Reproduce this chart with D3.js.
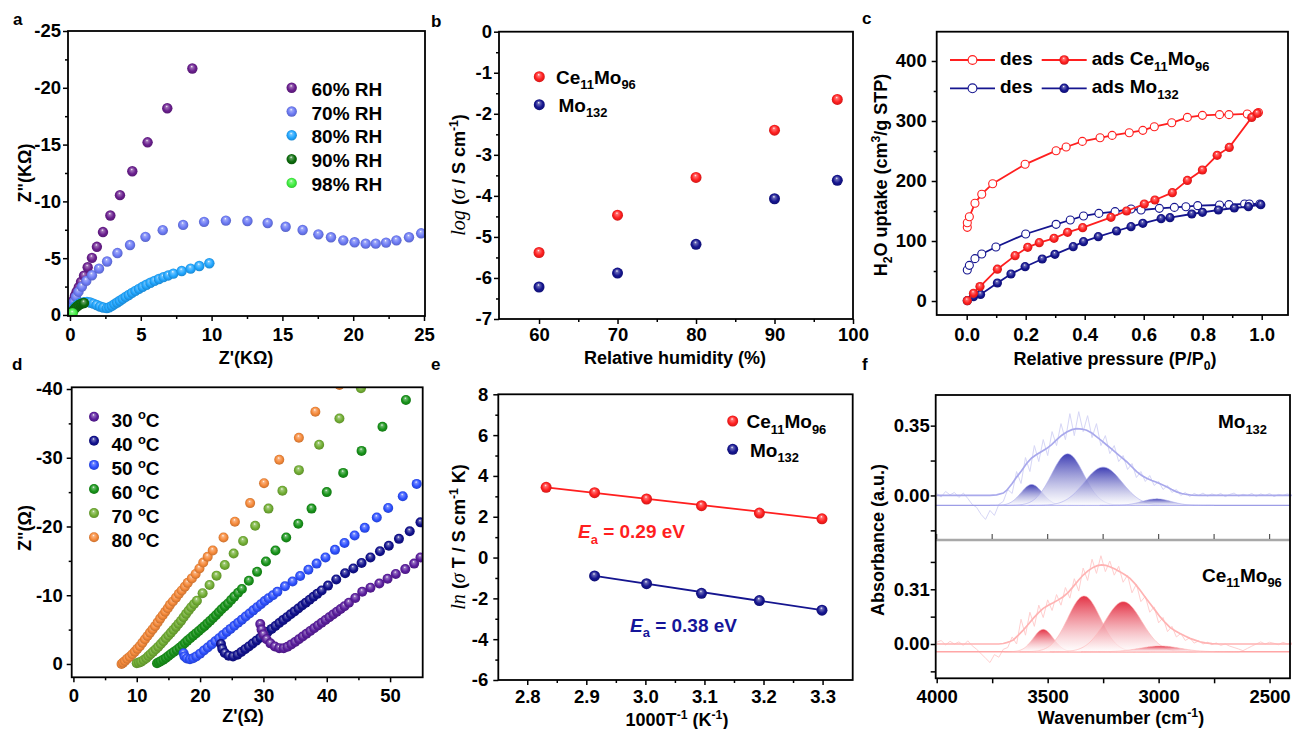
<!DOCTYPE html>
<html>
<head>
<meta charset="utf-8">
<script src="https://cdn.jsdelivr.net/npm/d3@7"></script>
<style>
  body { margin: 0; background: #fff; }
  svg text { font-family: Arial, "Liberation Sans", sans-serif; font-weight: bold; fill: #000; }
</style>
</head>
<body>
<svg id="fig" width="1292" height="729"></svg>
<script>
// ---------------- data ----------------
// (a) Nyquist plots of Ce11Mo96 at different humidity, [Z' (kOhm), Z'' (kOhm)]
const rhLabels = ["60% RH", "70% RH", "80% RH", "90% RH", "98% RH"];
const nyqRH60 = [[0.05,-0.15],[0.1,-0.4],[0.15,-0.7],[0.2,-1.0],[0.27,-1.35],[0.35,-1.7],[0.47,-2.05],[0.62,-2.45],[0.78,-2.9],[0.99,-3.45],[1.25,-4.2],[1.55,-5.03],[1.9,-6.0],[2.33,-7.3],[2.85,-8.76],[3.53,-10.55],[4.4,-12.65],[5.48,-15.2],[6.87,-18.2],[8.64,-21.7]];
const nyqRH70 = [[0.05,-0.1],[0.1,-0.3],[0.15,-0.55],[0.2,-0.85],[0.28,-1.17],[0.42,-1.61],[0.6,-2.05],[0.84,-2.5],[1.15,-3.0],[1.55,-3.5],[2.05,-4.08],[2.62,-4.71],[3.35,-5.45],[4.24,-6.16],[5.33,-6.88],[6.55,-7.47],[7.99,-7.93],[9.47,-8.2],[11.01,-8.31],[12.53,-8.27],[13.96,-8.1],[15.23,-7.77],[16.43,-7.48],[17.54,-7.1],[18.43,-6.84],[19.3,-6.57],[20.1,-6.4],[20.88,-6.28],[21.59,-6.28],[22.32,-6.37],[23.05,-6.57],[23.94,-6.84],[24.8,-7.19]];
const nyqRH80 = [[0.08,-0.15],[0.15,-0.35],[0.25,-0.55],[0.38,-0.75],[0.55,-0.92],[0.75,-1.05],[0.97,-1.12],[1.2,-1.15],[1.42,-1.1],[1.65,-1.0],[1.88,-0.88],[2.12,-0.75],[2.35,-0.66],[2.6,-0.6],[2.78,-0.68],[2.96,-0.8],[3.14,-0.95],[3.33,-1.1],[3.52,-1.25],[3.72,-1.42],[3.93,-1.59],[4.15,-1.76],[4.38,-1.95],[4.62,-2.12],[4.87,-2.3],[5.13,-2.48],[5.4,-2.66],[5.68,-2.84],[5.97,-3.0],[6.28,-3.17],[6.6,-3.33],[6.94,-3.48],[7.3,-3.64],[7.89,-3.87],[8.52,-4.08],[9.13,-4.31],[9.84,-4.55]];
const nyqRH90 = [[0.1,-0.12],[0.18,-0.28],[0.27,-0.45],[0.37,-0.6],[0.48,-0.73],[0.6,-0.85],[0.73,-0.95],[0.86,-1.02],[0.99,-1.05]];
const nyqRH98 = [[0.05,-0.08],[0.12,-0.12],[0.19,-0.15]];
const aTicksX = [0, 5, 10, 15, 20, 25];
const aTicksY = [0, -5, -10, -15, -20, -25];

// (b) proton conductivity vs relative humidity
const humidity = [60, 70, 80, 90, 98];
const logSigmaCe = [-5.38, -4.47, -3.55, -2.40, -1.65];
const logSigmaMo = [-6.22, -5.88, -5.18, -4.07, -3.62];
const bTicksX = [60, 70, 80, 90, 100];
const bTicksY = [0, -1, -2, -3, -4, -5, -6, -7];

// (c) water vapour sorption isotherms, [P/P0, uptake]
const desCe = [[0.002,122.8],[0.002,130.5],[0.009,140.5],[0.028,162.8],[0.051,178],[0.088,195.5],[0.198,227.8],[0.303,250.5],[0.337,256.7],[0.392,266],[0.452,272],[0.493,276],[0.551,280.5],[0.597,284.4],[0.636,290.5],[0.695,297],[0.748,306],[0.799,309.4],[0.857,310.6],[0.889,310.6],[0.951,311.7],[0.989,314]];
const adsCe = [[0.002,0.6],[0.023,12.8],[0.045,24],[0.104,53],[0.164,75.6],[0.207,89.4],[0.246,97.2],[0.296,104.4],[0.342,114.4],[0.393,122.2],[0.489,139.4],[0.542,150],[0.602,161.7],[0.638,168.3],[0.697,180.6],[0.748,201],[0.799,218.3],[0.849,242.8],[0.890,256],[0.966,306],[0.985,312.7]];
const desMo = [[0.002,51.7],[0.009,59.4],[0.028,70.6],[0.051,78.3],[0.099,90],[0.2,111.7],[0.303,127.8],[0.351,135],[0.396,141.7],[0.448,146],[0.503,148.9],[0.557,153.3],[0.591,151.7],[0.653,154.4],[0.704,156],[0.743,157.2],[0.783,158.9],[0.857,160],[0.889,160.6],[0.942,161.7],[0.958,161.7],[0.994,161.7]];
const adsMo = [[0.002,0.6],[0.023,7.2],[0.047,11],[0.104,30],[0.150,45],[0.198,57.2],[0.256,70],[0.299,77.8],[0.361,90.6],[0.396,98.9],[0.446,107.2],[0.508,116.7],[0.557,123.9],[0.597,129.4],[0.659,137.2],[0.689,138.9],[0.763,145],[0.799,147.8],[0.853,151.7],[0.907,155],[0.955,157.2],[0.997,160.6]];
const cTicksX = [0, 0.2, 0.4, 0.6, 0.8, 1.0];
const cTicksY = [0, 100, 200, 300, 400];

// (d) Nyquist plots of Ce11Mo96 at different temperature, [Z' (Ohm), Z'' (Ohm)]
const tempLabels = ["30", "40", "50", "60", "70", "80"];
const nyqT30 = [[29.5,-5.8],[29.7,-5.0],[30.0,-4.3],[30.5,-3.6],[31.1,-3.0],[31.8,-2.55],[32.5,-2.3],[33.2,-2.3],[33.8,-2.5],[34.4,-2.85],[35.0,-3.2],[35.6,-3.6],[36.2,-4.0],[36.8,-4.4],[37.4,-4.8],[38.0,-5.2],[38.6,-5.6],[39.2,-6.0],[39.8,-6.4],[40.4,-6.8],[41.0,-7.2],[41.6,-7.6],[42.2,-8.0],[42.8,-8.4],[43.5,-8.9],[44.5,-9.6],[45.6,-10.5],[46.9,-11.1],[48.3,-11.7],[49.6,-12.4],[50.9,-13.1],[52.4,-13.8],[53.8,-14.6],[54.8,-15.5]];
const nyqT40 = [[23.3,-2.9],[23.5,-2.2],[23.9,-1.6],[24.5,-1.2],[25.2,-1.1],[25.9,-1.35],[26.5,-1.75],[27.1,-2.15],[27.7,-2.55],[28.3,-2.97],[28.9,-3.4],[29.5,-3.82],[30.1,-4.25],[30.7,-4.68],[31.3,-5.1],[31.9,-5.53],[32.5,-5.95],[33.1,-6.38],[33.7,-6.8],[34.3,-7.22],[34.9,-7.65],[35.5,-8.07],[36.1,-8.5],[36.7,-8.92],[37.3,-9.35],[37.9,-9.77],[38.5,-10.2],[39.2,-10.7],[40.2,-11.4],[41.5,-12.3],[42.9,-13.2],[44.2,-13.9],[45.5,-14.7],[46.9,-15.5],[48.4,-16.4],[49.8,-17.2],[51.4,-18.2],[53.1,-19.3],[54.8,-20.6]];
const nyqT50 = [[17.4,-1.55],[17.55,-1.1],[17.9,-0.8],[18.4,-0.7],[18.9,-0.82],[19.4,-1.1],[20.0,-1.5],[20.6,-1.95],[21.2,-2.4],[21.8,-2.85],[22.4,-3.3],[23.0,-3.75],[23.6,-4.2],[24.2,-4.65],[24.8,-5.1],[25.4,-5.55],[26.0,-6.0],[26.6,-6.45],[27.2,-6.9],[27.8,-7.35],[28.4,-7.8],[29.0,-8.25],[29.6,-8.7],[30.2,-9.15],[30.8,-9.55],[31.5,-10.0],[32.2,-10.5],[33.4,-11.3],[34.6,-12.0],[35.8,-12.8],[37.1,-13.7],[38.4,-14.6],[39.8,-15.5],[41.3,-16.6],[42.8,-17.6],[44.4,-18.7],[46.0,-19.8],[47.9,-21.3],[49.7,-22.7],[52.0,-24.4],[54.2,-26.2]];
const nyqT60 = [[13.2,-0.1],[13.5,-0.25],[13.8,-0.39],[14.2,-0.63],[14.6,-0.87],[15.0,-1.15],[15.4,-1.46],[15.85,-1.75],[16.3,-2.04],[16.75,-2.37],[17.2,-2.7],[17.6,-3.05],[18.0,-3.4],[18.45,-3.75],[18.9,-4.1],[19.35,-4.45],[19.8,-4.8],[20.25,-5.15],[20.7,-5.5],[21.15,-5.9],[21.6,-6.3],[22.05,-6.7],[22.5,-7.1],[22.95,-7.53],[23.4,-7.96],[23.9,-8.38],[24.4,-8.8],[24.9,-9.3],[25.4,-9.8],[26.0,-10.35],[26.6,-10.9],[27.7,-12.1],[29.0,-13.4],[30.4,-14.9],[31.9,-16.5],[33.6,-18.4],[35.5,-20.4],[37.6,-22.6],[40.0,-25.0],[42.6,-27.8],[45.5,-31.0],[48.8,-34.5],[52.5,-38.4]];
const nyqT70 = [[10.0,-0.1],[10.35,-0.2],[10.7,-0.34],[11.1,-0.58],[11.5,-0.83],[11.85,-1.15],[12.2,-1.46],[12.6,-1.8],[13.0,-2.14],[13.4,-2.5],[13.8,-2.9],[14.2,-3.3],[14.6,-3.74],[15.0,-4.15],[15.4,-4.56],[15.8,-4.98],[16.2,-5.4],[16.6,-5.85],[17.0,-6.3],[17.4,-6.8],[17.8,-7.3],[18.2,-7.77],[18.6,-8.25],[19.05,-8.72],[19.5,-9.2],[20.4,-10.3],[21.5,-11.5],[22.6,-12.85],[23.9,-14.4],[25.3,-16.06],[26.8,-17.9],[28.7,-20.1],[30.8,-22.6],[33.0,-25.2],[35.6,-28.2],[38.8,-31.9],[42.0,-35.7],[45.4,-40.1]];
const nyqT80 = [[7.6,0],[7.85,-0.2],[8.15,-0.44],[8.5,-0.75],[8.9,-1.06],[9.3,-1.42],[9.7,-1.8],[10.1,-2.2],[10.5,-2.6],[10.9,-3.1],[11.3,-3.6],[11.7,-4.08],[12.1,-4.56],[12.5,-5.03],[12.9,-5.5],[13.3,-6.05],[13.7,-6.6],[14.1,-7.1],[14.5,-7.6],[14.9,-8.1],[15.25,-8.6],[15.7,-9.1],[16.2,-9.65],[16.65,-10.2],[17.1,-10.7],[17.6,-11.25],[18.05,-11.8],[18.7,-12.45],[19.3,-13.1],[19.9,-13.9],[20.5,-14.75],[21.2,-15.6],[22.0,-16.5],[23.7,-18.4],[25.5,-20.7],[27.9,-23.4],[30.1,-26.3],[32.5,-29.7],[35.6,-32.9],[38.2,-36.7],[42.0,-40.6]];
const dTicksX = [0, 10, 20, 30, 40, 50];
const dTicksY = [0, -10, -20, -30, -40];

// (e) Arrhenius plots
const invT = [2.832, 2.914, 3.002, 3.095, 3.193, 3.299];
const lnSigmaTCe = [3.44, 3.18, 2.87, 2.54, 2.18, 1.90];
const lnSigmaTMo = [null, -0.90, -1.28, -1.75, -2.11, -2.58];
const fitCe = [[2.832, 3.44], [3.299, 1.90]];
const fitMo = [[2.914, -0.90], [3.299, -2.58]];
const eaCe = "0.29", eaMo = "0.38";
const eTicksX = [2.8, 2.9, 3.0, 3.1, 3.2, 3.3];
const eTicksY = [8, 6, 4, 2, 0, -2, -4, -6];

// (f) FT-IR O-H stretching region; raw spectra sampled every 20 cm-1 from 4000 cm-1
const rawStart = 4000, rawStep = 20;
const rawMo = [0.01,-0.008,0.02,0.003,0.015,-0.01,0.012,-0.015,-0.045,-0.06,-0.095,-0.12,-0.075,-0.1,-0.045,-0.03,0.03,0.01,0.12,0.06,0.19,0.12,0.25,0.17,0.28,0.2,0.32,0.25,0.36,0.28,0.41,0.3,0.42,0.32,0.4,0.29,0.36,0.25,0.3,0.21,0.25,0.17,0.2,0.13,0.16,0.09,0.12,0.07,0.1,0.05,0.07,0.03,0.05,0.015,0.03,0.0,0.015,-0.005,0.01,0.0,0.012,-0.004,0.008,0.0,0.01,-0.006,0.005,0.012,-0.004,0.006,0.0,0.01,-0.005,0.008,0.0,0.01,-0.006,0.005,0.0,0.008,0.0];
const rawCe = [0.01,0.02,-0.005,0.015,0.0,0.012,-0.008,0.018,-0.01,-0.03,-0.055,-0.08,-0.105,-0.06,-0.075,-0.03,-0.02,0.04,0.0,0.14,0.05,0.18,0.1,0.22,0.15,0.25,0.19,0.28,0.22,0.32,0.26,0.37,0.3,0.43,0.36,0.48,0.4,0.5,0.41,0.47,0.39,0.44,0.35,0.39,0.29,0.34,0.24,0.27,0.18,0.21,0.12,0.15,0.07,0.1,0.04,0.06,0.02,0.035,0.005,0.018,0.0,0.01,-0.004,0.006,-0.008,0.0,-0.012,-0.02,-0.028,-0.038,-0.025,-0.012,0.0,0.012,0.0,0.01,0.004,-0.004,0.01,0.0,0.006];
// overall fitted envelopes, [wavenumber, absorbance]
const envMo = [[4000,0],[3760,0],[3730,0.003],[3700,0.012],[3685,0.025],[3660,0.06],[3640,0.092],[3617,0.125],[3595,0.16],[3572,0.188],[3550,0.205],[3527,0.22],[3505,0.235],[3482,0.255],[3459,0.28],[3436,0.302],[3414,0.318],[3391,0.33],[3369,0.335],[3346,0.333],[3324,0.327],[3301,0.313],[3279,0.294],[3256,0.274],[3234,0.253],[3211,0.232],[3189,0.211],[3166,0.19],[3144,0.169],[3121,0.144],[3099,0.119],[3076,0.1],[3054,0.086],[3031,0.075],[3009,0.066],[2986,0.055],[2964,0.044],[2941,0.03],[2919,0.018],[2896,0.01],[2874,0.005],[2850,0.001],[2820,0],[2400,0]];
const envCe = [[4000,0],[3720,0],[3700,0.003],[3685,0.008],[3670,0.014],[3655,0.023],[3632,0.05],[3610,0.079],[3587,0.112],[3565,0.145],[3542,0.176],[3520,0.202],[3497,0.22],[3475,0.234],[3452,0.25],[3430,0.268],[3407,0.293],[3385,0.325],[3362,0.36],[3340,0.391],[3317,0.416],[3295,0.434],[3276,0.444],[3257,0.448],[3238,0.445],[3220,0.438],[3197,0.425],[3175,0.41],[3152,0.392],[3129,0.372],[3107,0.342],[3084,0.306],[3062,0.268],[3039,0.23],[3016,0.192],[2994,0.155],[2971,0.122],[2949,0.094],[2926,0.075],[2904,0.06],[2881,0.045],[2859,0.032],[2836,0.022],[2814,0.013],[2790,0.006],[2760,0.002],[2730,0],[2400,0]];
// deconvoluted Gaussian components: centre (cm-1), height, sigma (cm-1)
const peakCentresMo = [3572, 3410, 3250, 3009];
const peakHeightsMo = [0.105, 0.259, 0.192, 0.033];
const peakSigmasMo = [48, 72, 85, 65];
const peakBaseMo = -0.05;
const peakCentresCe = [3520, 3336, 3159, 2994];
const peakHeightsCe = [0.127, 0.316, 0.284, 0.033];
const peakSigmasCe = [45, 73, 83, 90];
const peakBaseCe = -0.044;
const fTicksX = [4000, 3500, 3000, 2500];
const fMinorX = [3750, 3250, 2750];
const fTicksTop = [0, 0.35];
const fTicksBot = [0, 0.31];

// ---------------- styles ----------------
const rhColors = ["#6a1f8e", "#6c7af4", "#21a6ff", "#0c6c0c", "#40ee40"];
const tempColors = ["#5b1e9e", "#11118e", "#2d50ff", "#18931a", "#72ae34", "#f5893a"];
const RED = "#ff1f1f", NAVY = "#15158f";
const TICK_FONT = 18.5, TITLE_FONT = 18, LEG_FONT = 19;

const svg = d3.select("#fig");
const defs = svg.append("defs");

// glossy sphere fill for scatter markers
function sphere(color) {
  const id = "sph" + color.replace("#", "");
  if (defs.select("#" + id).empty()) {
    const c = d3.color(color);
    const g = defs.append("radialGradient").attr("id", id)
      .attr("cx", "50%").attr("cy", "50%").attr("r", "55%").attr("fx", "44%").attr("fy", "30%");
    g.append("stop").attr("offset", "0%").attr("stop-color", "#ffffff");
    g.append("stop").attr("offset", "20%").attr("stop-color", d3.interpolateRgb(color, "#fff")(0.35));
    g.append("stop").attr("offset", "62%").attr("stop-color", color);
    g.append("stop").attr("offset", "100%").attr("stop-color", c.darker(0.7).formatHex());
  }
  return `url(#${id})`;
}

// text with sub/superscripts and italic runs
function rich(text, parts, size) {
  let shift = 0;
  parts.forEach(p => {
    const [t, k] = Array.isArray(p) ? p : [p, "n"];
    const ts = text.append("tspan").text(t);
    let target = 0;
    if (k === "sub") { target = size * 0.3; ts.attr("font-size", size * 0.68); }
    else if (k === "sup") { target = -size * 0.38; ts.attr("font-size", size * 0.68); }
    else if (k === "serif") {
      ts.attr("font-family", '"Liberation Serif", "Times New Roman", serif')
        .attr("font-style", "italic").attr("font-weight", "normal").attr("font-size", size * 1.12);
    }
    else if (k === "ital") { ts.attr("font-style", "italic"); }
    if (target !== shift) { ts.attr("dy", target - shift); shift = target; }
  });
  return text;
}

function label(g, x, y, parts, size, opts = {}) {
  const t = g.append("text").attr("x", x).attr("y", y).attr("font-size", size)
    .attr("text-anchor", opts.anchor || "start");
  if (opts.fill) t.style("fill", opts.fill);
  if (opts.rotate) t.attr("transform", `rotate(-90,${x},${y})`);
  rich(t, parts, size);
  if (opts.fill) t.selectAll("tspan").style("fill", opts.fill);
  return t;
}

function styleAxis(sel) {
  sel.attr("font-family", 'Arial, "Liberation Sans", sans-serif').attr("font-size", TICK_FONT).attr("font-weight", "bold");
  sel.selectAll(".domain").remove();
  sel.selectAll("line").attr("stroke", "#000").attr("stroke-width", 1.5);
  sel.selectAll("text").style("fill", "#000");
}

// frame + major/minor ticks
function axes(g, x, y, o) {
  const yb = y.range()[0], yt = y.range()[1], xl = x.range()[0], xr = x.range()[1];
  const fmtX = o.xf || (d => String(d)), fmtY = o.yf || (d => String(d));
  if (!o.noX) {
    g.append("g").attr("transform", `translate(0,${yb})`)
      .call(d3.axisBottom(x).tickValues(o.xt).tickFormat(fmtX).tickSize(5).tickSizeOuter(0).tickPadding(o.xp))
      .call(styleAxis);
    if (o.xm) g.append("g").attr("transform", `translate(0,${yb})`)
      .call(d3.axisBottom(x).tickValues(o.xm).tickFormat(() => "").tickSize(3).tickSizeOuter(0)).call(styleAxis);
  }
  g.append("g").attr("transform", `translate(${xl},0)`)
    .call(d3.axisLeft(y).tickValues(o.yt).tickFormat(fmtY).tickSize(5).tickSizeOuter(0).tickPadding(o.yp))
    .call(styleAxis);
  if (o.ym) g.append("g").attr("transform", `translate(${xl},0)`)
    .call(d3.axisLeft(y).tickValues(o.ym).tickFormat(() => "").tickSize(3).tickSizeOuter(0)).call(styleAxis);
  if (!o.noFrame) g.append("rect").attr("x", xl).attr("y", yt).attr("width", xr - xl).attr("height", yb - yt)
    .attr("fill", "none").attr("stroke", "#000").attr("stroke-width", 1.8);
}

function clipFor(id, x, y) {
  defs.append("clipPath").attr("id", id).append("rect")
    .attr("x", x.range()[0]).attr("y", y.range()[1])
    .attr("width", x.range()[1] - x.range()[0]).attr("height", y.range()[0] - y.range()[1]);
  return `url(#${id})`;
}

function spheres(g, data, x, y, r, color) {
  g.selectAll(null).data(data.filter(d => d[1] !== null)).join("circle")
    .attr("cx", d => x(d[0])).attr("cy", d => y(d[1])).attr("r", r)
    .attr("fill", sphere(color));
}

// panel letters
[["a", 13, 25], ["b", 431, 27], ["c", 862, 24], ["d", 12, 370], ["e", 431, 370], ["f", 862, 370]]
  .forEach(([t, x, y]) => svg.append("text").attr("x", x).attr("y", y).attr("font-size", 17).text(t));

// ================= (a) =================
{
  const g = svg.append("g");
  const x = d3.scaleLinear().domain([-0.14, 25.07]).range([68, 425]);
  const y = d3.scaleLinear().domain([0.09, -25]).range([316, 31]);
  const clip = clipFor("clipA", x, y);
  const pts = g.append("g").attr("clip-path", clip);
  [nyqRH60, nyqRH70, nyqRH80, nyqRH90, nyqRH98].forEach((s, i) => spheres(pts, s, x, y, 5.2, rhColors[i]));
  axes(g, x, y, { xt: aTicksX, xm: [2.5, 7.5, 12.5, 17.5, 22.5], yt: aTicksY, ym: [-2.5, -7.5, -12.5, -17.5, -22.5], xp: 7, yp: 2 });
  rhLabels.forEach((t, i) => {
    const cy = 87.7 + i * 23.8;
    g.append("circle").attr("cx", 291.7).attr("cy", cy).attr("r", 5.2).attr("fill", sphere(rhColors[i]));
    label(g, 311.5, cy + 8, [t], LEG_FONT);
  });
  label(g, 246, 364, ["Z'(KΩ)"], TITLE_FONT, { anchor: "middle" });
  label(g, 31, 173, ['Z"(KΩ)'], TITLE_FONT, { anchor: "middle", rotate: true });
}

// ================= (b) =================
{
  const g = svg.append("g");
  const x = d3.scaleLinear().domain([54.9, 100]).range([499, 853]);
  const y = d3.scaleLinear().domain([-7, 0]).range([319, 31.7]);
  spheres(g, humidity.map((h, i) => [h, logSigmaCe[i]]), x, y, 5.5, RED);
  spheres(g, humidity.map((h, i) => [h, logSigmaMo[i]]), x, y, 5.5, NAVY);
  axes(g, x, y, { xt: bTicksX, xm: [65, 75, 85, 95], yt: bTicksY, ym: [-0.5, -1.5, -2.5, -3.5, -4.5, -5.5, -6.5], xp: 4, yp: 2 });
  g.append("circle").attr("cx", 539.3).attr("cy", 76.7).attr("r", 5.5).attr("fill", sphere(RED));
  label(g, 556, 83.5, ["Ce", ["11", "sub"], "Mo", ["96", "sub"]], LEG_FONT);
  g.append("circle").attr("cx", 539.3).attr("cy", 104.7).attr("r", 5.5).attr("fill", sphere(NAVY));
  label(g, 558.5, 111.5, ["Mo", ["132", "sub"]], LEG_FONT);
  label(g, 675, 364, ["Relative humidity (%)"], TITLE_FONT, { anchor: "middle" });
  label(g, 465, 175, [["log", "serif"], " (", ["σ", "serif"], " / S cm", ["-1", "sup"], ")"], TITLE_FONT, { anchor: "middle", rotate: true });
}

// ================= (c) =================
{
  const g = svg.append("g");
  const x = d3.scaleLinear().domain([-0.1017, 1.0891]).range([936.7, 1288]);
  const y = d3.scaleLinear().domain([-23.3, 448.8]).range([315, 31.7]);
  const line = d3.line().x(d => x(d[0])).y(d => y(d[1]));
  const series = [
    [desMo, NAVY, true], [adsMo, NAVY, false], [desCe, RED, true], [adsCe, RED, false]
  ];
  series.forEach(([data, col, open]) => {
    g.append("path").attr("d", line(data)).attr("fill", "none").attr("stroke", col).attr("stroke-width", 1.8);
    const c = g.selectAll(null).data(data).join("circle")
      .attr("cx", d => x(d[0])).attr("cy", d => y(d[1]));
    if (open) c.attr("r", 4).attr("fill", "#fff").attr("stroke", col).attr("stroke-width", 1.1);
    else c.attr("r", 4.6).attr("fill", sphere(col));
  });
  axes(g, x, y, { xt: cTicksX, xm: [0.1, 0.3, 0.5, 0.7, 0.9], xf: d3.format(".1f"), yt: cTicksY, ym: [50, 150, 250, 350], xp: 8, yp: 5 });
  const leg = [
    [60, RED, true, 950, ["des"]], [60, RED, false, 1041.7, ["ads Ce", ["11", "sub"], "Mo", ["96", "sub"]]],
    [88.3, NAVY, true, 950, ["des"]], [88.3, NAVY, false, 1041.7, ["ads Mo", ["132", "sub"]]]
  ];
  leg.forEach(([ly, col, open, lx, txt]) => {
    g.append("line").attr("x1", lx).attr("x2", lx + 45).attr("y1", ly).attr("y2", ly).attr("stroke", col).attr("stroke-width", 1.8);
    const c = g.append("circle").attr("cx", lx + 22.5).attr("cy", ly);
    if (open) c.attr("r", 4.4).attr("fill", "#fff").attr("stroke", col).attr("stroke-width", 1.1);
    else c.attr("r", 4.8).attr("fill", sphere(col));
    label(g, lx + 50, ly + 5, txt, LEG_FONT);
  });
  label(g, 1115, 365, ["Relative pressure (P/P", ["0", "sub"], ")"], TITLE_FONT, { anchor: "middle" });
  label(g, 887, 175, ["H", ["2", "sub"], "O uptake (cm", ["3", "sup"], "/g STP)"], TITLE_FONT, { anchor: "middle", rotate: true });
}

// ================= (d) =================
{
  const g = svg.append("g");
  const x = d3.scaleLinear().domain([-0.27, 55.15]).range([71.7, 422.7]);
  const y = d3.scaleLinear().domain([1.94, -40.25]).range([677.3, 387.3]);
  const clip = clipFor("clipD", x, y);
  const pts = g.append("g").attr("clip-path", clip);
  const sets = [nyqT30, nyqT40, nyqT50, nyqT60, nyqT70, nyqT80];
  for (let i = sets.length - 1; i >= 0; i--) spheres(pts, sets[i], x, y, 5, tempColors[i]);
  axes(g, x, y, { xt: dTicksX, xm: [5, 15, 25, 35, 45], yt: dTicksY, ym: [-5, -15, -25, -35], xp: 7, yp: 4 });
  tempLabels.forEach((t, i) => {
    const cy = 416.7 + i * 24.1;
    g.append("circle").attr("cx", 94).attr("cy", cy).attr("r", 5).attr("fill", sphere(tempColors[i]));
    label(g, 111.5, cy + 10, [t + " ", ["o", "sup"], "C"], LEG_FONT);
  });
  label(g, 243, 722, ["Z'(Ω)"], TITLE_FONT, { anchor: "middle" });
  label(g, 31, 528, ['Z"(Ω)'], TITLE_FONT, { anchor: "middle", rotate: true });
}

// ================= (e) =================
{
  const g = svg.append("g");
  const x = d3.scaleLinear().domain([2.751, 3.351]).range([498.3, 852.7]);
  const y = d3.scaleLinear().domain([-6, 8]).range([680, 394.3]);
  const line = d3.line().x(d => x(d[0])).y(d => y(d[1]));
  g.append("path").attr("d", line(fitCe)).attr("stroke", RED).attr("stroke-width", 1.8).attr("fill", "none");
  g.append("path").attr("d", line(fitMo)).attr("stroke", NAVY).attr("stroke-width", 1.8).attr("fill", "none");
  spheres(g, invT.map((v, i) => [v, lnSigmaTCe[i]]), x, y, 5.5, RED);
  spheres(g, invT.map((v, i) => [v, lnSigmaTMo[i]]), x, y, 5.5, NAVY);
  axes(g, x, y, { xt: eTicksX, xm: [2.85, 2.95, 3.05, 3.15, 3.25], xf: d3.format(".1f"), yt: eTicksY, ym: [7, 5, 3, 1, -1, -3, -5], xp: 5, yp: 5 });
  g.append("circle").attr("cx", 732.7).attr("cy", 421).attr("r", 5.5).attr("fill", sphere(RED));
  label(g, 746.5, 428.3, ["Ce", ["11", "sub"], "Mo", ["96", "sub"]], LEG_FONT);
  g.append("circle").attr("cx", 732.7).attr("cy", 449.3).attr("r", 5.5).attr("fill", sphere(NAVY));
  label(g, 750, 456.5, ["Mo", ["132", "sub"]], LEG_FONT);
  label(g, 578, 538, [["E", "ital"], ["a", "sub"], " = " + eaCe + " eV"], LEG_FONT, { fill: "#ff1f1f" });
  label(g, 630, 631.5, [["E", "ital"], ["a", "sub"], " = " + eaMo + " eV"], LEG_FONT, { fill: "#15159a" });
  label(g, 677, 725.5, ["1000T", ["-1", "sup"], " (K", ["-1", "sup"], ")"], TITLE_FONT, { anchor: "middle" });
  label(g, 465, 537, [["ln", "serif"], " (", ["σ", "serif"], " T / S cm", ["-1", "sup"], " K)"], TITLE_FONT, { anchor: "middle", rotate: true });
}

// ================= (f) =================
{
  const g = svg.append("g");
  const x = d3.scaleLinear().domain([4004.5, 2408]).range([935.7, 1290]);
  const yTop = d3.scaleLinear().domain([-0.2233, 0.5036]).range([540, 395]);
  const yBot = d3.scaleLinear().domain([-0.1943, 0.5892]).range([678.3, 540]);
  const wnGrid = d3.range(4000, 2399, -5);

  function spectrum(yS, raw, env, centres, heights, sigmas, base, dark, rawCol, envCol, baseCol, gid) {
    const grad = defs.append("linearGradient").attr("id", gid).attr("x1", 0).attr("x2", 0).attr("y1", 0).attr("y2", 1);
    grad.append("stop").attr("offset", "0%").attr("stop-color", dark).attr("stop-opacity", 0.95);
    grad.append("stop").attr("offset", "100%").attr("stop-color", "#ffffff").attr("stop-opacity", 0.6);
    const line = d3.line().x(d => x(d[0])).y(d => yS(d[1]));
    // raw spectrum
    g.append("path").attr("d", line(raw.map((v, i) => [rawStart - i * rawStep, v])))
      .attr("fill", "none").attr("stroke", rawCol).attr("stroke-width", 1);
    // baseline of the deconvolution
    g.append("path").attr("d", line([[4004.5, base], [2408, base]]))
      .attr("stroke", baseCol).attr("stroke-width", 1.3).attr("fill", "none");
    // Gaussian components
    centres.forEach((c, k) => {
      const pts = wnGrid.filter(w => Math.abs(w - c) < 4 * sigmas[k])
        .map(w => [w, base + heights[k] * Math.exp(-((w - c) ** 2) / (2 * sigmas[k] ** 2))]);
      const area = d3.area().x(d => x(d[0])).y0(yS(base)).y1(d => yS(d[1]));
      g.append("path").attr("d", area(pts)).attr("fill", `url(#${gid})`)
        .attr("stroke", envCol).attr("stroke-width", 0.6);
    });
    // fitted envelope
    g.append("path").attr("d", line(env)).attr("fill", "none").attr("stroke", envCol).attr("stroke-width", 1.7);
  }

  spectrum(yTop, rawMo, envMo, peakCentresMo, peakHeightsMo, peakSigmasMo, peakBaseMo,
    "#3434b0", "#d6d6f6", "#a9a9ec", "#9d9de6", "gMo");
  spectrum(yBot, rawCe, envCe, peakCentresCe, peakHeightsCe, peakSigmasCe, peakBaseCe,
    "#e2283c", "#ffcfcf", "#ffb3b3", "#ffa6a6", "gCe");

  // divider between the two spectra
  g.append("line").attr("x1", 935.7).attr("x2", 1290).attr("y1", 540).attr("y2", 540)
    .attr("stroke", "#a8a8a8").attr("stroke-width", 2.6);
  fTicksX.concat(fMinorX).forEach(v => {
    g.append("line").attr("x1", x(v)).attr("x2", x(v)).attr("y1", 534).attr("y2", 539)
      .attr("stroke", "#555").attr("stroke-width", 1.2);
  });

  axes(g, x, yTop, { noX: true, noFrame: true, yt: [-0.175, 0, 0.175, 0.35], yf: d => fTicksTop.includes(d) ? d.toFixed(2) : "", yp: 1 });
  axes(g, x, yBot, { noFrame: true, xt: [4000, 3750, 3500, 3250, 3000, 2750, 2500], xf: d => fTicksX.includes(d) ? String(d) : "",
    yt: [-0.155, 0, 0.155, 0.31, 0.465], yf: d => fTicksBot.includes(d) ? d.toFixed(2) : "", xp: 7, yp: 1 });
  g.append("rect").attr("x", 935.7).attr("y", 395).attr("width", 1290 - 935.7).attr("height", 678.3 - 395)
    .attr("fill", "none").attr("stroke", "#000").attr("stroke-width", 1.8);

  label(g, 1218, 428, ["Mo", ["132", "sub"]], LEG_FONT);
  label(g, 1202, 581.5, ["Ce", ["11", "sub"], "Mo", ["96", "sub"]], LEG_FONT);
  label(g, 1121, 724, ["Wavenumber (cm", ["-1", "sup"], ")"], TITLE_FONT, { anchor: "middle" });
  label(g, 884, 540, ["Absorbance (a.u.)"], TITLE_FONT, { anchor: "middle", rotate: true });
}
</script>
</body>
</html>
